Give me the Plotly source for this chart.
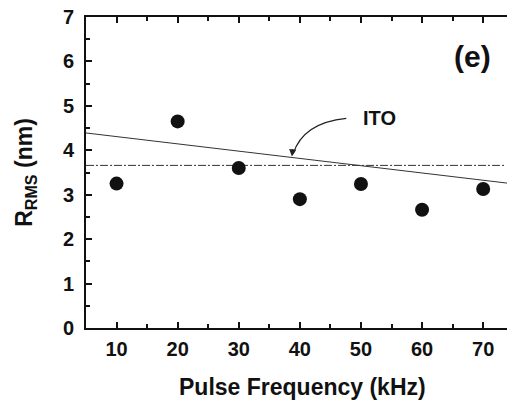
import plotly.graph_objects as go

freq_khz = [10, 20, 30, 40, 50, 60, 70]
r_rms_nm = [3.25, 4.65, 3.6, 2.9, 3.24, 2.66, 3.13]
fit_x = [5, 74]
fit_y = [4.39, 3.26]
ito_level = 3.66
x_ticks = [10, 20, 30, 40, 50, 60, 70]
y_ticks = [0, 1, 2, 3, 4, 5, 6, 7]

FONT = "Liberation Sans, Arial, Helvetica, sans-serif"
INK = "#111111"

fig = go.Figure()
fig.add_trace(go.Scatter(x=fit_x, y=fit_y, mode="lines",
                         line=dict(color="#333333", width=1), hoverinfo="skip"))
fig.add_trace(go.Scatter(x=[fit_x[0], 73.7], y=[ito_level, ito_level], mode="lines",
                         line=dict(color="#333333", width=1, dash="8px,2px,2px,2px"),
                         hoverinfo="skip"))
fig.add_trace(go.Scatter(x=freq_khz, y=r_rms_nm, mode="markers",
                         marker=dict(size=14, color=INK)))

# curved arrow from ITO label to the fit line
fig.add_shape(type="path", path="M 47.6,4.72 Q 40.5,4.62 38.9,3.92",
              line=dict(color="#222222", width=1.2), xref="x", yref="y")
fig.add_annotation(x=38.7, y=3.86, ax=1, ay=-9, xref="x", yref="y",
                   showarrow=True, arrowhead=2, arrowsize=1.2, arrowwidth=1.2,
                   arrowcolor="#222222", text="")
fig.add_annotation(x=53.0, y=4.72, text="<b>ITO</b>", showarrow=False,
                   font=dict(family=FONT, size=20, color=INK))
fig.add_annotation(x=68.3, y=6.1, text="<b>(e)</b>", showarrow=False,
                   font=dict(family=FONT, size=30, color=INK))
# x-axis title (the original axis continues past the cropped right edge)
fig.add_annotation(x=0.515, y=-0.19, xref="paper", yref="paper",
                   xanchor="center", yanchor="middle", showarrow=False,
                   text="<b>Pulse Frequency (kHz)</b>",
                   font=dict(family=FONT, size=23, color=INK))

tickfont = dict(family=FONT, size=20, color=INK, weight="bold")
axis_common = dict(showgrid=False, zeroline=False, showline=True, linecolor=INK,
                   linewidth=2, ticks="inside", tickcolor=INK, tickwidth=1.5,
                   ticklen=6, tickfont=tickfont)

fig.update_xaxes(range=[5, 73.9], tickvals=x_ticks, mirror="ticks",
                 ticklabelstandoff=2,
                 minor=dict(dtick=5, tick0=0, ticks="inside", ticklen=4,
                            tickcolor=INK, tickwidth=1.5),
                 **axis_common)
fig.update_yaxes(range=[0, 7], tickvals=y_ticks, mirror=False,
                 ticklabelstandoff=6,
                 minor=dict(dtick=0.5, tick0=0, ticks="inside", ticklen=4,
                            tickcolor=INK, tickwidth=1.5),
                 title=dict(text="<b>R<sub>RMS</sub> (nm)</b>", standoff=24,
                            font=dict(family=FONT, size=23, color=INK)),
                 **axis_common)

fig.update_layout(width=507, height=402, showlegend=False,
                  margin=dict(l=86, r=0, t=17, b=74),
                  plot_bgcolor="white", paper_bgcolor="white")

fig.write_html("out.html")
